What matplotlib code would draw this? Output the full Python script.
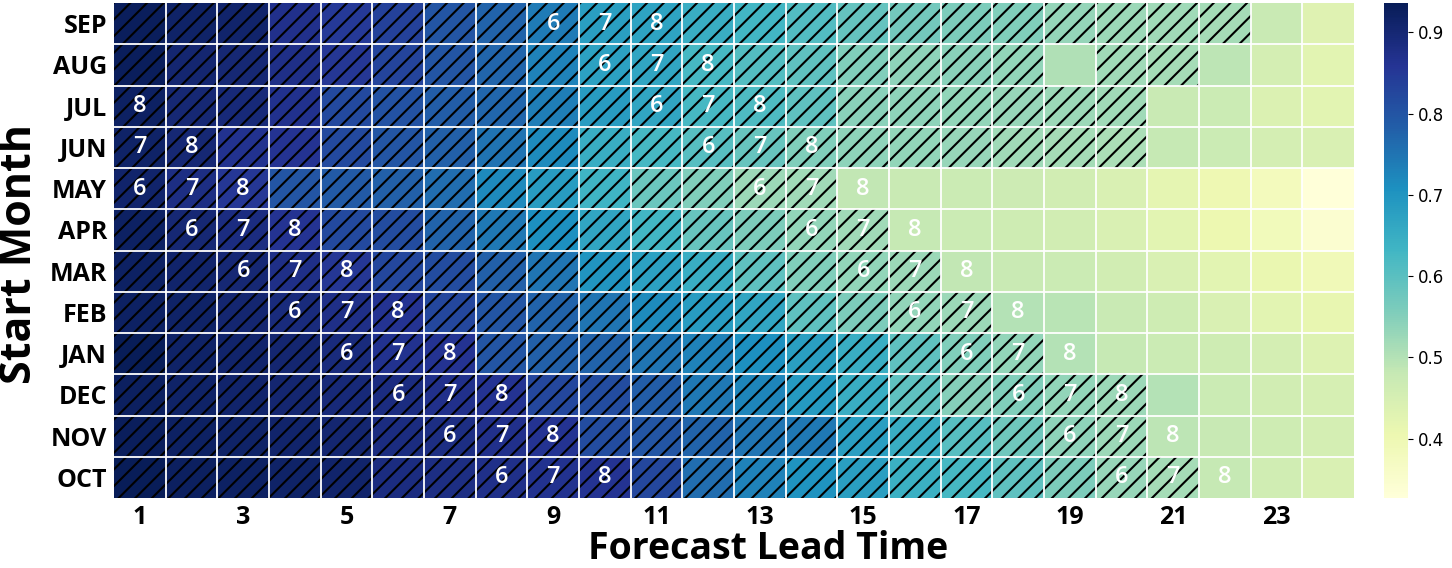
import matplotlib
matplotlib.use("Agg")
from matplotlib import pyplot as plt
from matplotlib.patches import Rectangle
import numpy as np
import seaborn as sns

# rows from top to bottom as shown
months = ["SEP", "AUG", "JUL", "JUN", "MAY", "APR", "MAR", "FEB", "JAN", "DEC", "NOV", "OCT"]
leads = list(range(1, 25))

sep = [0.930, 0.915, 0.910, 0.870, 0.850, 0.835, 0.800, 0.775, 0.740, 0.680, 0.670, 0.650,
       0.630, 0.612, 0.588, 0.572, 0.560, 0.555, 0.532, 0.526, 0.520, 0.515, 0.476, 0.432]
aug = [0.930, 0.905, 0.900, 0.875, 0.855, 0.830, 0.800, 0.772, 0.730, 0.675, 0.665, 0.625,
       0.610, 0.595, 0.555, 0.540, 0.545, 0.535, 0.505, 0.520, 0.515, 0.490, 0.455, 0.425]
jul = [0.920, 0.900, 0.895, 0.868, 0.820, 0.805, 0.785, 0.770, 0.735, 0.685, 0.665, 0.625,
       0.615, 0.595, 0.545, 0.540, 0.535, 0.530, 0.525, 0.520, 0.476, 0.470, 0.440, 0.425]
jun = [0.915, 0.900, 0.865, 0.860, 0.820, 0.800, 0.780, 0.752, 0.715, 0.650, 0.625, 0.605,
       0.585, 0.555, 0.540, 0.535, 0.530, 0.520, 0.515, 0.510, 0.480, 0.470, 0.455, 0.445]
may = [0.910, 0.880, 0.855, 0.800, 0.790, 0.780, 0.760, 0.718, 0.685, 0.635, 0.580, 0.555,
       0.525, 0.520, 0.485, 0.475, 0.470, 0.468, 0.460, 0.445, 0.420, 0.400, 0.380, 0.327]
apr = [0.920, 0.900, 0.885, 0.860, 0.820, 0.815, 0.775, 0.745, 0.708, 0.665, 0.630, 0.585,
       0.560, 0.535, 0.520, 0.480, 0.470, 0.465, 0.460, 0.445, 0.425, 0.405, 0.385, 0.345]
mar = [0.920, 0.910, 0.900, 0.875, 0.855, 0.825, 0.815, 0.780, 0.750, 0.700, 0.675, 0.650,
       0.595, 0.555, 0.535, 0.525, 0.485, 0.475, 0.470, 0.460, 0.445, 0.425, 0.410, 0.390]
feb = [0.920, 0.915, 0.905, 0.890, 0.875, 0.860, 0.825, 0.800, 0.775, 0.750, 0.715, 0.685,
       0.665, 0.595, 0.560, 0.535, 0.525, 0.500, 0.495, 0.475, 0.465, 0.445, 0.425, 0.415]
jan = [0.936, 0.915, 0.910, 0.905, 0.890, 0.865, 0.860, 0.800, 0.780, 0.775, 0.750, 0.730,
       0.710, 0.680, 0.650, 0.595, 0.555, 0.535, 0.500, 0.480, 0.470, 0.465, 0.455, 0.435]
dec = [0.925, 0.915, 0.910, 0.905, 0.895, 0.885, 0.870, 0.860, 0.825, 0.815, 0.785, 0.745,
       0.725, 0.690, 0.650, 0.595, 0.550, 0.555, 0.535, 0.525, 0.500, 0.470, 0.460, 0.450]
nov = [0.930, 0.920, 0.915, 0.910, 0.905, 0.885, 0.880, 0.870, 0.860, 0.815, 0.800, 0.775,
       0.750, 0.745, 0.680, 0.650, 0.605, 0.575, 0.540, 0.525, 0.490, 0.478, 0.466, 0.455]
oct_ = [0.935, 0.925, 0.920, 0.915, 0.910, 0.885, 0.880, 0.872, 0.865, 0.860, 0.825, 0.760,
        0.730, 0.705, 0.680, 0.645, 0.625, 0.595, 0.560, 0.530, 0.515, 0.480, 0.462, 0.445]

# 1 = hatched, per row, lead 1..24
hatch_mask = [
    "111111111111111111111100",  # SEP
    "111111111111111111011000",  # AUG
    "111111111111111111110000",  # JUL
    "111111111111111111110000",  # JUN
    "111111111111110000000000",  # MAY
    "111111111111111000000000",  # APR
    "111111111111111100000000",  # MAR
    "111111111111111110000000",  # FEB
    "111111111111111111000000",  # JAN
    "111111111111111111110000",  # DEC
    "111111111111111111110000",  # NOV
    "111111111111111111111000",  # OCT
]

# target-month labels (row index, lead, text)
label_rows = [0, 0, 0, 1, 1, 1, 2, 2, 2, 2, 3, 3, 3, 3, 3, 4, 4, 4, 4, 4, 4,
              5, 5, 5, 5, 5, 5, 6, 6, 6, 6, 6, 6, 7, 7, 7, 7, 7, 7,
              8, 8, 8, 8, 8, 8, 9, 9, 9, 9, 9, 9, 10, 10, 10, 10, 10, 10, 11, 11, 11, 11, 11, 11]
label_leads = [9, 10, 11, 10, 11, 12, 1, 11, 12, 13, 1, 2, 12, 13, 14, 1, 2, 3, 13, 14, 15,
               2, 3, 4, 14, 15, 16, 3, 4, 5, 15, 16, 17, 4, 5, 6, 16, 17, 18,
               5, 6, 7, 17, 18, 19, 6, 7, 8, 18, 19, 20, 7, 8, 9, 19, 20, 21, 8, 9, 10, 20, 21, 22]
label_text = ["6", "7", "8", "6", "7", "8", "8", "6", "7", "8", "7", "8", "6", "7", "8",
              "6", "7", "8", "6", "7", "8", "6", "7", "8", "6", "7", "8", "6", "7", "8", "6", "7", "8",
              "6", "7", "8", "6", "7", "8", "6", "7", "8", "6", "7", "8", "6", "7", "8", "6", "7", "8",
              "6", "7", "8", "6", "7", "8", "6", "7", "8", "6", "7", "8"]

plt.rcParams['font.family'] = ['Open Sans', 'DejaVu Sans']
plt.rcParams['hatch.linewidth'] = 1.5

data = np.array([sep, aug, jul, jun, may, apr, mar, feb, jan, dec, nov, oct_])

W, H = 1452, 568
fig = plt.figure(figsize=(W / 100, H / 100), dpi=100)
ax = fig.add_axes([114 / W, 1 - 498 / H, 1240 / W, 495 / H])
cax = fig.add_axes([1384 / W, 1 - 498 / H, 24 / W, 495 / H])

sns.heatmap(data, cmap="YlGnBu", linewidths=0, ax=ax, cbar_ax=cax,
            xticklabels=False, yticklabels=False)

# hatching
for i, row in enumerate(hatch_mask):
    for j, c in enumerate(row):
        if c == "1":
            ax.add_patch(Rectangle((j, i), 1, 1, fill=False, hatch="//",
                                   edgecolor="black", linewidth=0, zorder=2))

# white cell borders on top of the hatching
for k in range(1, 24):
    ax.axvline(k, color="white", lw=1.3, zorder=3)
for k in range(1, 12):
    ax.axhline(k, color="white", lw=1.3, zorder=3)

for r, l, t in zip(label_rows, label_leads, label_text):
    ax.text(l - 0.5, r + 0.5, t, ha="center", va="center", color="white",
            fontsize=17, fontweight="semibold", zorder=4)

ax.set_xticks(np.arange(0, 24, 2) + 0.5)
ax.set_xticklabels([str(v) for v in leads[::2]], fontsize=18, fontweight="bold", rotation=0)
ax.set_yticks(np.arange(12) + 0.5)
ax.set_yticklabels(months, fontsize=18, fontweight="bold", rotation=0)
ax.tick_params(length=0, pad=5)

fig.text(768 / W, 9 / H, "Forecast Lead Time", ha="center", va="baseline",
         fontsize=27, fontweight="bold")
fig.text(20 / W, 1 - 254 / H, "Start Month", ha="center", va="center", rotation=90,
         fontsize=31, fontweight="bold")

cax.set_yticks([0.4, 0.5, 0.6, 0.7, 0.8, 0.9])
cax.set_yticklabels(["0.4", "0.5", "0.6", "0.7", "0.8", "0.9"], fontsize=12, family="DejaVu Sans")

fig.savefig("out.png", dpi=100)
